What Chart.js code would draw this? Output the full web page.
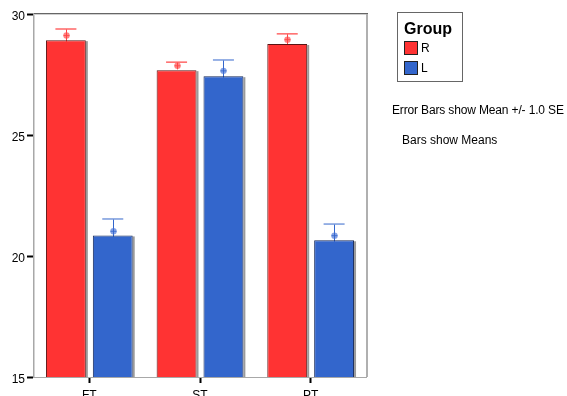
<!DOCTYPE html>
<html>
<head>
<meta charset="utf-8">
<script src="https://cdn.jsdelivr.net/npm/chart.js@4.4.1/dist/chart.umd.min.js"></script>
<style>
  html,body{margin:0;padding:0;background:#fff;}
  #wrap{position:relative;width:567px;height:396px;overflow:hidden;font-family:"Liberation Sans",Arial,sans-serif;}
  canvas{position:absolute;left:0;top:0;}
  #legend{position:absolute;left:397px;top:12px;width:64px;height:68px;border:1px solid #666;box-sizing:content-box;}
  #legend .t{position:absolute;left:6px;top:8px;font-weight:bold;font-size:16px;color:#000;line-height:16px;}
  #legend .it{position:absolute;left:6px;font-size:12px;line-height:14px;color:#000;}
  #legend .sw{display:inline-block;width:14px;height:14px;vertical-align:top;margin-right:3px;border:1px solid #222;box-sizing:border-box;}
  .note{position:absolute;font-size:12px;color:#000;white-space:nowrap;line-height:12px;}
</style>
</head>
<body>
<div id="wrap">
<canvas id="c" width="567" height="396"></canvas>
<div id="legend">
  <div class="t">Group</div>
  <div class="it" style="top:28px"><span class="sw" style="background:#ff3333"></span>R</div>
  <div class="it" style="top:48px"><span class="sw" style="background:#3366cc"></span>L</div>
</div>
<div class="note" style="left:392px;top:104px;letter-spacing:-0.15px;">Error Bars show Mean +/- 1.0 SE</div>
<div class="note" style="left:402px;top:134px;">Bars show Means</div>
</div>
<script>
const categories = ["FT", "ST", "PT"];
const seriesNames = ["R", "L"];
const barR = [28.92, 27.68, 28.76];
const barL = [20.85, 27.43, 20.65];
const meanR = [29.11, 27.86, 28.94];
const meanL = [21.02, 27.65, 20.84];
const seR = [0.27, 0.15, 0.24];
const seL = [0.51, 0.45, 0.48];
const yTicks = [15, 20, 25, 30];

const errStyles = [
  {line:'#ff4444', cap:'#ff6666', dot:'rgba(255,90,90,0.75)'},
  {line:'#3366cc', cap:'#7799dd', dot:'rgba(90,130,220,0.75)'}
];
const means = [meanR, meanL];
const ses = [seR, seL];

const shadowPlugin = {
  id:'shadow',
  beforeDatasetsDraw(chart){
    const ctx = chart.ctx;
    const a = chart.chartArea;
    ctx.save();
    ctx.beginPath(); ctx.rect(a.left, a.top, a.right - a.left, a.bottom - a.top); ctx.clip();
    chart.data.datasets.forEach((ds, di) => {
      chart.getDatasetMeta(di).data.forEach(bar => {
        const p = bar.getProps(['x','y','base','width'], true);
        const b = Math.min(p.base, a.bottom);
        ctx.fillStyle = '#9a9a9a';
        ctx.fillRect(p.x + p.width/2, p.y + 1, 2, b - p.y - 1);
      });
    });
    // error bars (drawn before bars so the lower whisker is hidden)
    const ys = chart.scales.y;
    chart.data.datasets.forEach((ds, di) => {
      const st = errStyles[di];
      chart.getDatasetMeta(di).data.forEach((bar, i) => {
        const x = bar.x;
        const m = means[di][i], s = ses[di][i];
        const yU = ys.getPixelForValue(m + s);
        const yL = ys.getPixelForValue(m - s);
        ctx.strokeStyle = st.line; ctx.lineWidth = 1;
        ctx.beginPath(); ctx.moveTo(Math.round(x)+0.5, yU); ctx.lineTo(Math.round(x)+0.5, yL); ctx.stroke();
        ctx.strokeStyle = st.cap; ctx.lineWidth = 1.5;
        ctx.beginPath(); ctx.moveTo(x - 10.5, yU); ctx.lineTo(x + 10.5, yU); ctx.stroke();
      });
    });
    ctx.restore();
  },
  afterDatasetsDraw(chart){
    const ctx = chart.ctx;
    const ys = chart.scales.y;
    ctx.save();
    chart.data.datasets.forEach((ds, di) => {
      const st = errStyles[di];
      chart.getDatasetMeta(di).data.forEach((bar, i) => {
        const x = Math.round(bar.x) + 0.5;
        const y = ys.getPixelForValue(means[di][i]);
        ctx.fillStyle = st.dot;
        ctx.beginPath(); ctx.arc(x, y, 3.2, 0, Math.PI*2); ctx.fill();
        ctx.strokeStyle = st.line; ctx.lineWidth = 0.8;
        ctx.beginPath(); ctx.moveTo(x-3, y); ctx.lineTo(x+3, y); ctx.moveTo(x, y-3); ctx.lineTo(x, y+3); ctx.stroke();
      });
    });
    // frame
    const a = chart.chartArea;
    ctx.fillStyle = '#b0b0b0';
    ctx.fillRect(a.right, a.top, 2, a.bottom - a.top);
    ctx.strokeStyle = '#666'; ctx.lineWidth = 1;
    ctx.beginPath(); ctx.moveTo(a.left, a.top - 0.5); ctx.lineTo(a.right + 2, a.top - 0.5); ctx.stroke();
    ctx.strokeStyle = '#cfcfcf';
    ctx.beginPath(); ctx.moveTo(a.left, a.top + 0.5); ctx.lineTo(a.right, a.top + 0.5); ctx.stroke();
    ctx.restore();
  }
};

new Chart(document.getElementById('c'), {
  type: 'bar',
  data: {
    labels: categories,
    datasets: [
      {label: seriesNames[0], data: barR, backgroundColor:'#ff3333', borderColor:'#5a1414', borderWidth:{left:1,top:1,right:1,bottom:0}, borderSkipped:false,
       categoryPercentage:0.847, barPercentage:0.851},
      {label: seriesNames[1], data: barL, backgroundColor:'#3366cc', borderColor:'#14285a', borderWidth:{left:1,top:1,right:1,bottom:0}, borderSkipped:false,
       categoryPercentage:0.847, barPercentage:0.851}
    ]
  },
  options: {
    responsive:false,
    animation:false,
    layout:{padding:{left:0, right:201, top:14, bottom:0}},
    plugins:{legend:{display:false}, tooltip:{enabled:false}},
    scales:{
      x:{
        offset:true,
        grid:{display:true, drawOnChartArea:false, tickColor:'#000', tickWidth:2, tickLength:6, offset:false},
        border:{color:'#a8a8a8', width:1},
        ticks:{color:'#000', font:{family:'"Liberation Sans", Arial, sans-serif', size:12}, padding:5},
        afterFit(s){ s.height = 19; }
      },
      y:{
        min:15, max:30,
        afterBuildTicks(s){ s.ticks = yTicks.map(v => ({value:v})); },
        grid:{display:true, drawOnChartArea:false, tickColor:'#000', tickWidth:2, tickLength:7},
        border:{color:'#a8a8a8', width:1.5},
        ticks:{color:'#000', font:{family:'"Liberation Sans", Arial, sans-serif', size:12}, padding:2, labelOffset:3},
        afterFit(s){ s.width = 34; }
      }
    }
  },
  plugins:[shadowPlugin]
});
</script>
</body>
</html>
